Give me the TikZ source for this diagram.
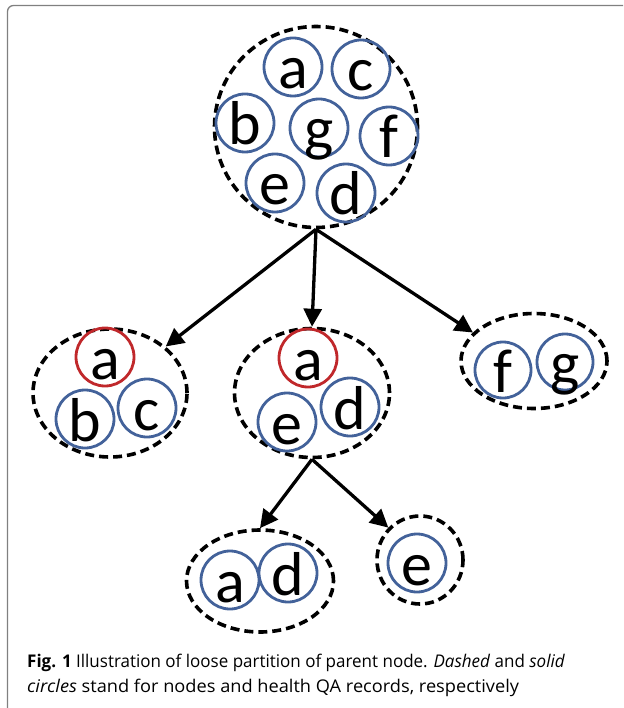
\documentclass[tikz,border=0pt]{standalone}
\usepackage{fontspec}
\setmainfont{Open Sans}
\newfontfamily\letterfont{Carlito}
\usetikzlibrary{arrows.meta,shapes.geometric}
\definecolor{recblue}{HTML}{43629A}
\definecolor{recred}{HTML}{C0282B}
\definecolor{framegray}{HTML}{808080}
\tikzset{
  rec/.style={circle, draw=recblue, line width=2.8pt, minimum size=58pt, inner sep=0pt,
    font=\letterfont\fontsize{62}{62}\selectfont, text height=44pt, text depth=0pt},
  recA/.style={rec, draw=recred},
  groupnode/.style={ellipse, draw=black, line width=3.6pt, dash pattern=on 9pt off 5pt, inner sep=0pt},
  link/.style={line width=3.3pt, -{Triangle[length=18pt,width=18pt]}},
  captext/.style={anchor=base west, inner sep=0pt, font=\fontsize{17.5}{20}\selectfont},
}
\begin{document}
\begin{tikzpicture}[x=1pt,y=-1pt]
\useasboundingbox (0,0) rectangle (623,708);
\draw[framegray, line width=1.3pt, rounded corners=6pt] (7.5,708) -- (7.5,5.5) -- (623,5.5);
% top node
\node[groupnode, minimum width=203pt, minimum height=201pt] (P) at (316,127) {};
\node[rec] (pa) at (293,67) {a};
\node[rec] (pc) at (361,69) {c};
\node[rec] (pb) at (245,123) {b};
\node[rec] (pg) at (319,128) {g};
\node[rec] (pf) at (389,136) {f};
\node[rec] (pe) at (275,183) {e};
\node[rec] (pd) at (346,193) {d};
% left child
\node[groupnode, minimum width=154pt, minimum height=128pt] (L) at (110,393) {};
\node[recA] (la) at (105,357) {a};
\node[rec] (lb) at (85,419) {b};
\node[rec] (lc) at (147,408) {c};
% middle child
\node[groupnode, minimum width=155pt, minimum height=129pt] (M) at (312,393) {};
\node[recA] (ma) at (308,358) {a};
\node[rec] (me) at (287,422) {e};
\node[rec] (md) at (350,407) {d};
% right child
\node[groupnode, minimum width=146pt, minimum height=95pt] (R) at (534,361) {};
\node[rec, minimum size=56pt] (rf) at (503,370) {f};
\node[rec, minimum size=56pt] (rg) at (565,362) {g};
% bottom-left
\node[groupnode, minimum width=147pt, minimum height=102pt] (BL) at (260,581) {};
\node[rec] (ba) at (230,580) {a};
\node[rec] (bd) at (288,573) {d};
% bottom-right
\node[groupnode, minimum width=86pt, minimum height=88pt] (BR) at (420,560) {};
\node[rec] (be) at (417,563) {e};
% arrows
\draw[link] (P.south) -- (L.north east);
\draw[link] (P.south) -- (M.north);
\draw[link] (P.south) -- (R.155);
\draw[link] (M.south) -- (BL.north);
\draw[link] (M.south) -- (BR.north west);
% caption
\node[captext] (cap1) at (27,667)
  {\scalebox{0.971}[1]{\textbf{Fig. 1} Illustration of loose partition of parent node. \textit{Dashed} and \textit{solid}}};
\node[captext] (cap2) at (27,692)
  {\scalebox{1.04}[1]{\textit{circles} stand for nodes and health QA records, respectively}};
\end{tikzpicture}
\end{document}
